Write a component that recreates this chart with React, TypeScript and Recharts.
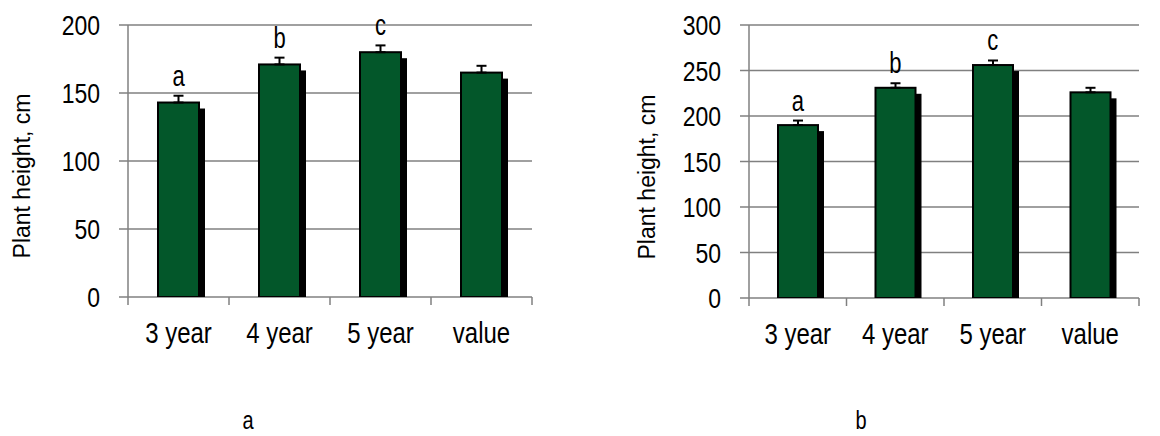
import {
  ComposedChart,
  Bar,
  Line,
  XAxis,
  YAxis,
  CartesianGrid,
  ErrorBar,
  LabelList,
} from 'recharts'

const FONT = '"Liberation Sans", Arial, sans-serif'
const GRID = '#808080'
const GREEN = '#03572A'
// the source picture is a little taller than wide, so glyphs get stretched
const STRETCH = 1.22

const categories = ['3 year', '4 year', '5 year', 'value']
const letters = ['a', 'b', 'c', '']

// panel a
const heightA = [143, 171, 180, 165]
const errorA = [5, 5, 5, 5]
const ticksA = [0, 50, 100, 150, 200]

// panel b
const heightB = [190, 231, 256, 226]
const errorB = [5, 5, 5, 5]
const ticksB = [0, 50, 100, 150, 200, 250, 300]

function StretchText({ x, y, sy = STRETCH, size = 23, anchor = 'middle', children }: any) {
  return (
    <text
      transform={`translate(${x},${y}) scale(1,${sy})`}
      x={0}
      y={0}
      textAnchor={anchor}
      fontSize={size}
      fontFamily={FONT}
      fill="#000"
    >
      {children}
    </text>
  )
}

function ShadowBar(props: any) {
  const { x, y, width, height } = props
  return (
    <g>
      <rect x={x + 6} y={y + 6} width={width} height={Math.max(height - 6, 0)} fill="#000" />
      <rect x={x} y={y} width={width} height={height} fill={GREEN} stroke="#000" strokeWidth={2} />
    </g>
  )
}

function YTick({ x, y, payload }: any) {
  return (
    <StretchText x={x} y={y + 10} anchor="end">
      {payload.value}
    </StretchText>
  )
}

function XTick({ x, y, payload, index, half }: any) {
  const last = index === categories.length - 1
  return (
    <g>
      <line x1={x - half} x2={x - half} y1={y} y2={y + 8} stroke={GRID} strokeWidth={1.5} />
      {last && <line x1={x + half} x2={x + half} y1={y} y2={y + 8} stroke={GRID} strokeWidth={1.5} />}
      <StretchText x={x} y={y + 46} size={24}>
        {payload.value}
      </StretchText>
    </g>
  )
}

function LetterLabel(props: any) {
  const vb = props.viewBox || {}
  const cx = props.x ?? vb.x + (vb.width || 0) / 2
  const top = props.y ?? vb.y
  if (!props.value) return null
  return (
    <StretchText x={cx} y={top - 10} size={22} sy={1.3}>
      {props.value}
    </StretchText>
  )
}

interface PanelProps {
  values: number[]
  errors: number[]
  ticks: number[]
  left: number
  width: number
  axisWidth: number
  rightMargin: number
  bottomMargin: number
  barSize: number
}

function Panel({ values, errors, ticks, left, width, axisWidth, rightMargin, bottomMargin, barSize }: PanelProps) {
  const data = categories.map((name, i) => ({
    name,
    value: values[i],
    err: [0, errors[i]],
    top: values[i] + errors[i],
    letter: letters[i],
  }))
  const max = ticks[ticks.length - 1]
  const half = (width - axisWidth - rightMargin) / categories.length / 2

  return (
    <div style={{ position: 'absolute', left, top: 0 }}>
      <ComposedChart
        width={width}
        height={360}
        data={data}
        margin={{ top: 25, right: rightMargin, left: 0, bottom: bottomMargin }}
      >
        <CartesianGrid vertical={false} stroke={GRID} strokeWidth={1.5} />
        <XAxis
          dataKey="name"
          tick={<XTick half={half} />}
          tickLine={false}
          axisLine={false}
          tickSize={0}
          tickMargin={0}
          height={50}
          interval={0}
        />
        <YAxis
          domain={[0, max]}
          ticks={ticks}
          width={axisWidth}
          tick={<YTick />}
          tickSize={9}
          tickMargin={19}
          tickLine={{ stroke: GRID, strokeWidth: 1.5 }}
          axisLine={{ stroke: GRID, strokeWidth: 1.5 }}
          allowDataOverflow
        />
        <Bar dataKey="value" barSize={barSize} shape={<ShadowBar />} isAnimationActive={false}>
          <ErrorBar dataKey="err" width={5} strokeWidth={2} stroke="#000" direction="y" />
        </Bar>
        <Line
          dataKey="top"
          stroke="none"
          dot={false}
          activeDot={false}
          isAnimationActive={false}
        >
          <LabelList dataKey="letter" content={<LetterLabel />} />
        </Line>
      </ComposedChart>
    </div>
  )
}

export default function App() {
  return (
    <div
      style={{
        position: 'absolute',
        left: 0,
        top: 0,
        width: 1160,
        height: 436,
        background: '#fff',
        fontFamily: FONT,
      }}
    >
      <Panel
        values={heightA}
        errors={errorA}
        ticks={ticksA}
        left={0}
        width={560}
        axisWidth={128}
        rightMargin={28}
        bottomMargin={13}
        barSize={41}
      />
      <Panel
        values={heightB}
        errors={errorB}
        ticks={ticksB}
        left={620}
        width={540}
        axisWidth={129}
        rightMargin={21}
        bottomMargin={12}
        barSize={40}
      />
      <svg
        width={1160}
        height={436}
        style={{ position: 'absolute', left: 0, top: 0, pointerEvents: 'none' }}
      >
        <text x={30} y={176} transform="rotate(-90 30 176)" textAnchor="middle" fontSize={23} fontFamily={FONT}>
          Plant height, cm
        </text>
        <text x={655} y={177} transform="rotate(-90 655 177)" textAnchor="middle" fontSize={23} fontFamily={FONT}>
          Plant height, cm
        </text>
        <StretchText x={248} y={429} size={20} sy={1.3}>
          a
        </StretchText>
        <StretchText x={861} y={429} size={20} sy={1.3}>
          b
        </StretchText>
      </svg>
    </div>
  )
}
